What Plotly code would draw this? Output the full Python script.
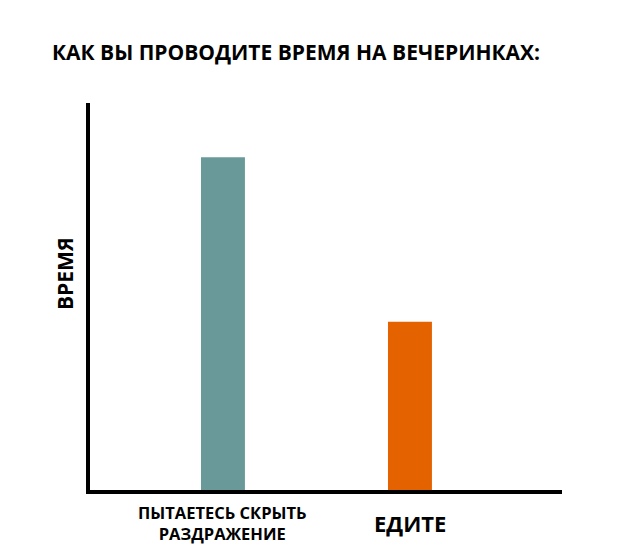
import plotly.graph_objects as go

categories = ["ПЫТАЕТЕСЬ СКРЫТЬ<br>РАЗДРАЖЕНИЕ", "ЕДИТЕ"]
label_sizes = [16.5, 22]
positions = [0, 1]
values = [8.6, 4.35]
colors = ["#699a99", "#e46300"]
title_text = "КАК ВЫ ПРОВОДИТЕ ВРЕМЯ НА ВЕЧЕРИНКАХ:"
y_title = "ВРЕМЯ"

font_family = "Open Sans, Noto Sans, sans-serif"

# page body has an 8px default margin; size the figure to fit the 630x550 window
W, H = 622, 542

fig = go.Figure(
    go.Bar(
        x=positions,
        y=values,
        width=0.235,
        marker=dict(color=colors, line=dict(width=0)),
        hoverinfo="skip",
    )
)

annotations = []
for pos, cat, s in zip(positions, categories, label_sizes):
    annotations.append(dict(
        x=pos, xref="x",
        y=-(523 - 490) / 387, yref="paper",
        xanchor="center", yanchor="middle",
        text=cat,
        showarrow=False,
        align="center",
        font=dict(size=s, family=font_family, color="black", weight="bold"),
    ))
annotations.append(dict(
    x=(65 - 90) / 472, xref="paper",
    y=(490 - 274) / 387, yref="paper",
    xanchor="center", yanchor="middle",
    text=y_title,
    textangle=-90,
    showarrow=False,
    font=dict(size=21, family=font_family, color="black", weight="bold"),
))

fig.update_layout(
    width=W,
    height=H,
    paper_bgcolor="white",
    plot_bgcolor="white",
    margin=dict(l=82, r=68, t=95, b=60),
    showlegend=False,
    font=dict(family=font_family, color="black", weight="bold"),
    title=dict(
        text=title_text,
        x=(296 - 8) / W,
        xanchor="center",
        xref="container",
        y=1 - (53 - 8) / H,
        yref="container",
        yanchor="middle",
        font=dict(size=21, family=font_family, color="black", weight="bold"),
    ),
    xaxis=dict(
        range=[-0.711, 1.813],
        tickvals=positions,
        showticklabels=False,
        showgrid=False,
        zeroline=False,
        showline=True,
        linecolor="black",
        linewidth=4,
        ticks="",
    ),
    yaxis=dict(
        range=[0, 10],
        showticklabels=False,
        showgrid=False,
        zeroline=False,
        showline=True,
        linecolor="black",
        linewidth=4,
        ticks="",
    ),
    annotations=annotations,
)

fig.write_html("out.html")
